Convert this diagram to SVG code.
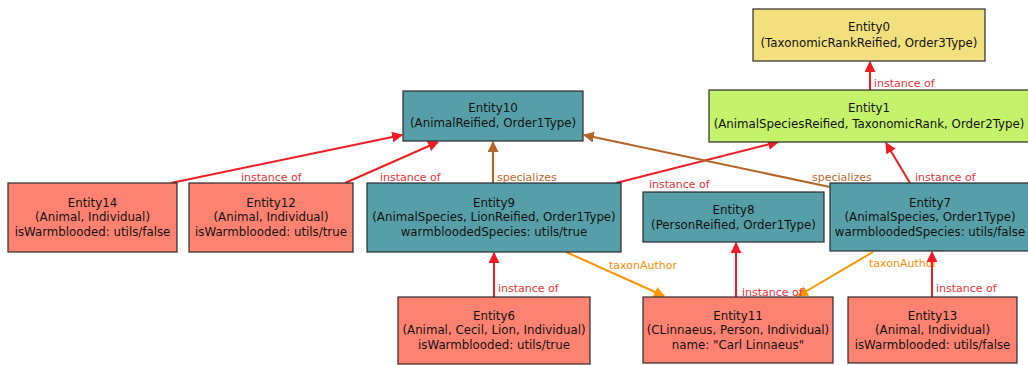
<svg xmlns="http://www.w3.org/2000/svg" width="1028" height="365" viewBox="0 0 1028 365">
<style>
.n rect{stroke:#2b2b2b;stroke-width:1.2}
.t{font-family:"DejaVu Sans",sans-serif;font-size:11.8px;fill:#111;text-anchor:middle}
.yel{fill:#f2e07f}.grn{fill:#c5f26b}.teal{fill:#579fa8}.sal{fill:#fe8272}
.l{font-family:"DejaVu Sans",sans-serif;font-size:11px}
.lr{fill:#f0303a}.lb{fill:#b86a30}.lo{fill:#ff8c00}
.er{stroke:#ee1c25;stroke-width:2;fill:none}
.eb{stroke:#b5652a;stroke-width:2;fill:none}
.eo{stroke:#ff9400;stroke-width:2;fill:none}
</style>
<defs>
<marker id="ar" viewBox="0 0 10 10" refX="9" refY="5" markerWidth="5.5" markerHeight="5.5" orient="auto" markerUnits="strokeWidth"><path d="M0,0L10,5L0,10z" fill="#ee1c25"/></marker>
<marker id="ab" viewBox="0 0 10 10" refX="9" refY="5" markerWidth="5.5" markerHeight="5.5" orient="auto" markerUnits="strokeWidth"><path d="M0,0L10,5L0,10z" fill="#b5652a"/></marker>
<marker id="ao" viewBox="0 0 10 10" refX="9" refY="5" markerWidth="5.5" markerHeight="5.5" orient="auto" markerUnits="strokeWidth"><path d="M0,0L10,5L0,10z" fill="#ff9400"/></marker>
</defs>
<rect width="1028" height="365" fill="#fff"/>
<g id="connectors">
<line class="er" x1="870" y1="90" x2="870" y2="62" marker-end="url(#ar)"/>
<text class="l lr" x="874" y="87">instance of</text>
<line class="er" x1="171" y1="183" x2="402" y2="135" marker-end="url(#ar)"/>
<text class="l lr" x="241" y="181">instance of</text>
<line class="er" x1="345" y1="183" x2="438" y2="142" marker-end="url(#ar)"/>
<text class="l lr" x="380" y="181">instance of</text>
<line class="eb" x1="493" y1="183" x2="493" y2="142" marker-end="url(#ab)"/>
<text class="l lb" x="497" y="181">specializes</text>
<line class="er" x1="616" y1="183" x2="778" y2="142" marker-end="url(#ar)"/>
<text class="l lr" x="649" y="188">instance of</text>
<line class="eb" x1="830" y1="187" x2="584" y2="135" marker-end="url(#ab)"/>
<text class="l lb" x="812" y="181">specializes</text>
<line class="er" x1="910" y1="183" x2="886" y2="143" marker-end="url(#ar)"/>
<text class="l lr" x="915" y="181">instance of</text>
<line class="eo" x1="566" y1="252" x2="664" y2="296" marker-end="url(#ao)"/>
<text class="l lo" x="609" y="269">taxonAuthor</text>
<line class="eo" x1="873" y1="252" x2="798" y2="296" marker-end="url(#ao)"/>
<text class="l lo" x="869" y="267">taxonAuthor</text>
<line class="er" x1="736" y1="297" x2="736" y2="243" marker-end="url(#ar)"/>
<text class="l lr" x="742" y="296">instance of</text>
<line class="er" x1="932" y1="297" x2="932" y2="252" marker-end="url(#ar)"/>
<text class="l lr" x="936" y="292">instance of</text>
<line class="er" x1="494" y1="297" x2="494" y2="253" marker-end="url(#ar)"/>
<text class="l lr" x="498" y="292">instance of</text>
</g>
<g id="Entity0" class="n"><rect class="yel" x="753" y="9" width="232" height="52"/>
<text class="t" x="869" y="31">Entity0</text><text class="t" x="869" y="47">(TaxonomicRankReified, Order3Type)</text></g>
<g id="Entity1" class="n"><rect class="grn" x="709" y="90" width="322" height="52"/>
<text class="t" x="869" y="112">Entity1</text><text class="t" x="869" y="128">(AnimalSpeciesReified, TaxonomicRank, Order2Type)</text></g>
<g id="Entity10" class="n"><rect class="teal" x="403" y="91" width="180" height="50"/>
<text class="t" x="493" y="112">Entity10</text><text class="t" x="493" y="127">(AnimalReified, Order1Type)</text></g>
<g id="Entity14" class="n"><rect class="sal" x="8" y="183" width="169" height="69"/>
<text class="t" x="92.5" y="207">Entity14</text><text class="t" x="92.5" y="221">(Animal, Individual)</text><text class="t" x="92.5" y="236">isWarmblooded: utils/false</text></g>
<g id="Entity12" class="n"><rect class="sal" x="189" y="183" width="164" height="69"/>
<text class="t" x="271" y="207">Entity12</text><text class="t" x="271" y="221">(Animal, Individual)</text><text class="t" x="271" y="236">isWarmblooded: utils/true</text></g>
<g id="Entity9" class="n"><rect class="teal" x="367" y="183" width="254" height="69"/>
<text class="t" x="494" y="207">Entity9</text><text class="t" x="494" y="221">(AnimalSpecies, LionReified, Order1Type)</text><text class="t" x="494" y="236">warmbloodedSpecies: utils/true</text></g>
<g id="Entity8" class="n"><rect class="teal" x="643" y="192" width="181" height="50"/>
<text class="t" x="733.5" y="214">Entity8</text><text class="t" x="733.5" y="229">(PersonReified, Order1Type)</text></g>
<g id="Entity7" class="n"><rect class="teal" x="830" y="183" width="200" height="68"/>
<text class="t" x="930" y="207">Entity7</text><text class="t" x="930" y="221">(AnimalSpecies, Order1Type)</text><text class="t" x="930" y="236">warmbloodedSpecies: utils/false</text></g>
<g id="Entity6" class="n"><rect class="sal" x="398" y="297" width="192" height="67"/>
<text class="t" x="494" y="320">Entity6</text><text class="t" x="494" y="334">(Animal, Cecil, Lion, Individual)</text><text class="t" x="494" y="349">isWarmblooded: utils/true</text></g>
<g id="Entity11" class="n"><rect class="sal" x="643" y="297" width="190" height="66"/>
<text class="t" x="738" y="320">Entity11</text><text class="t" x="738" y="334">(CLinnaeus, Person, Individual)</text><text class="t" x="738" y="349">name: "Carl Linnaeus"</text></g>
<g id="Entity13" class="n"><rect class="sal" x="848" y="297" width="169" height="66"/>
<text class="t" x="932.5" y="320">Entity13</text><text class="t" x="932.5" y="334">(Animal, Individual)</text><text class="t" x="932.5" y="349">isWarmblooded: utils/false</text></g>
</svg>
